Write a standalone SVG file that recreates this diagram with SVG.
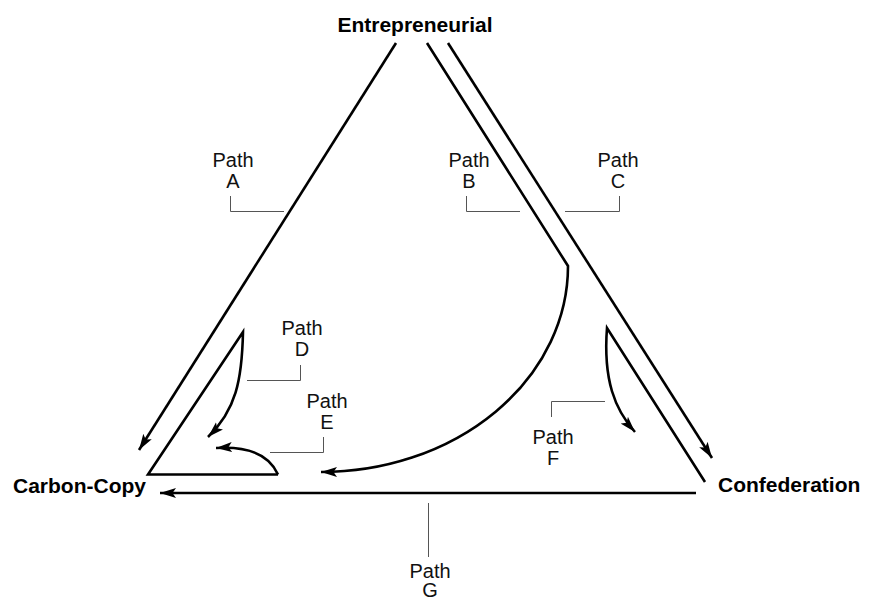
<svg xmlns="http://www.w3.org/2000/svg" width="877" height="601" viewBox="0 0 877 601">
<style>
.ln{fill:none;stroke:#000;stroke-width:2.6;stroke-linejoin:miter;stroke-miterlimit:6}
.ldr{fill:none;stroke:#555;stroke-width:1}
.lbl{font-family:"Liberation Sans",Arial,sans-serif;font-size:20px;fill:#111;text-anchor:middle}
.node{font-family:"Liberation Sans",Arial,sans-serif;font-size:21px;font-weight:bold;fill:#000}
</style>
<defs>
<marker id="ah" markerUnits="userSpaceOnUse" markerWidth="17" markerHeight="11" refX="16" refY="5.5" orient="auto" viewBox="0 0 17 11">
<path d="M0,0.5 L16,5.5 L0,10.5 L3.5,5.5 Z" fill="#000"/>
</marker>
</defs>
<g id="node-entrepreneurial"><text class="node" x="415" y="32" text-anchor="middle">Entrepreneurial</text></g>
<g id="node-carbon-copy"><text class="node" x="13" y="493">Carbon-Copy</text></g>
<g id="node-confederation"><text class="node" x="718" y="492">Confederation</text></g>
<g id="connectors">
<path id="pathA" class="ln" d="M396,43 L139,450" marker-end="url(#ah)"/>
<path id="pathB" class="ln" d="M427,43 L568,266 A247,206 0 0 1 321,472" marker-end="url(#ah)"/>
<path id="pathC" class="ln" d="M448,43 L712,458" marker-end="url(#ah)"/>
<path id="pathD" class="ln" d="M278,474.5 L148,474.5 L243,332 C242,380 236,410 208,437" marker-end="url(#ah)"/>
<path id="pathE" class="ln" d="M278,474.5 Q265,445 216,448" marker-end="url(#ah)"/>
<path id="pathF" class="ln" d="M705,482 L607,328 C603,380 615,410 635,432" marker-end="url(#ah)"/>
<path id="pathG" class="ln" d="M696,493 L160,493" marker-end="url(#ah)"/>
</g>
<g id="label-A"><path class="ldr" d="M230.5,196 V211.5 H284"/><text class="lbl" x="233" y="167">Path<tspan x="233" dy="21">A</tspan></text></g>
<g id="label-B"><path class="ldr" d="M466.5,196 V211.5 H520"/><text class="lbl" x="469" y="167">Path<tspan x="469" dy="21">B</tspan></text></g>
<g id="label-C"><path class="ldr" d="M565,211.5 H619.5 V196"/><text class="lbl" x="618" y="167">Path<tspan x="618" dy="21">C</tspan></text></g>
<g id="label-D"><path class="ldr" d="M300.5,365 V380.5 H247"/><text class="lbl" x="302" y="335">Path<tspan x="302" dy="21">D</tspan></text></g>
<g id="label-E"><path class="ldr" d="M323.5,437 V452.5 H270"/><text class="lbl" x="327" y="408">Path<tspan x="327" dy="21">E</tspan></text></g>
<g id="label-F"><path class="ldr" d="M551.5,417 V401.5 H605"/><text class="lbl" x="553" y="444">Path<tspan x="553" dy="21">F</tspan></text></g>
<g id="label-G"><path class="ldr" d="M428.5,503 V557"/><text class="lbl" x="430" y="578">Path<tspan x="430" dy="19">G</tspan></text></g>
</svg>
